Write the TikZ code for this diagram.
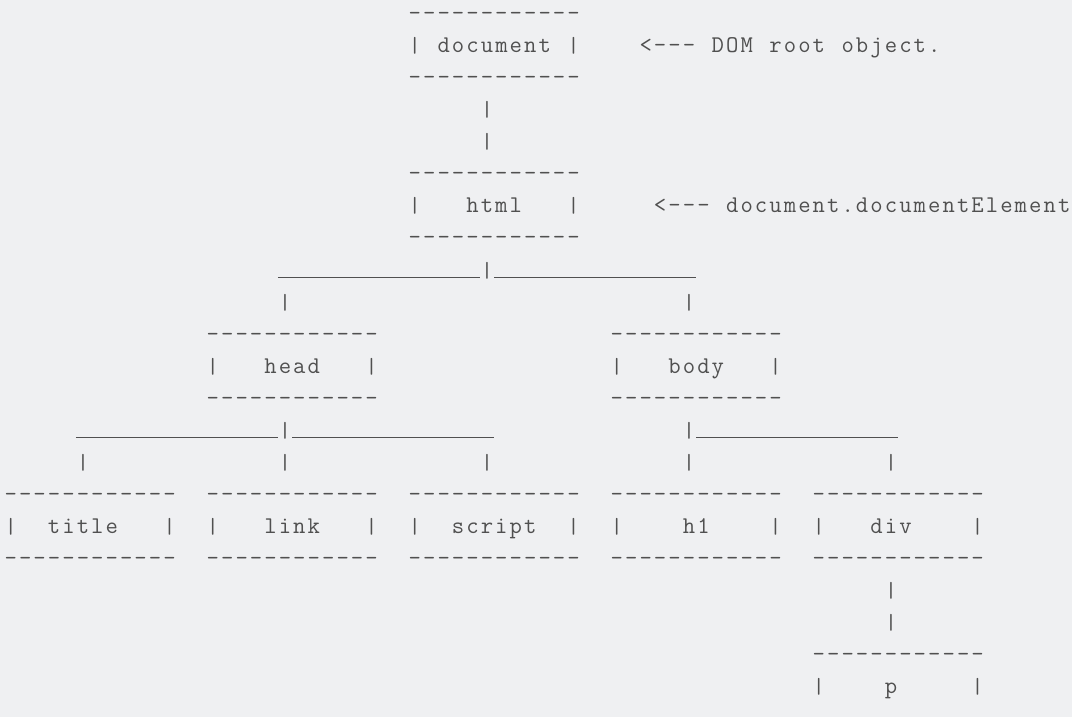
\documentclass[tikz,border=0pt]{standalone}
\usepackage{fontspec}
\usepackage{graphicx}
\definecolor{bg}{HTML}{EFF0F2}
\definecolor{ink}{HTML}{505050}
\newlength\cw \setlength\cw{14.43pt}
\makeatletter
\newcommand\cells[1]{\@tfor\ascch:=#1\do{\makebox[\cw][c]{\ascch}}}
\makeatother
\newcommand\vbar{\raisebox{-2pt}{\resizebox*{\width}{17pt}{\raisebox{\depth}{|}}}}
\tikzset{asc/.style={anchor=base west, inner sep=0pt, outer sep=0pt, text=ink,
  font=\fontsize{24}{28}\selectfont\ttfamily}}
\newcommand\ascseg[4]{\node[asc] (#1) at ({3.6pt+#2*\cw},{-20.5pt-#3*32.05pt}) {\cells{#4}};}
\newcommand\ascus[4]{\node[asc] (#1) at ({3.6pt+#2*\cw},{-20.5pt-#3*32.05pt}) {\rule[-1.3pt]{#4\cw}{1.2pt}};}
\begin{document}
\begin{tikzpicture}
\path[fill=bg,use as bounding box] (0pt,0pt) rectangle (1072pt,-717pt);
% document
\ascseg{docT}{28}{0}{------------}
\ascseg{document}{28}{1}{\vbar~document~\vbar}
\ascseg{docnote}{44}{1}{<---~DOM~root~object.}
\ascseg{docB}{28}{2}{------------}
\ascseg{c1}{33}{3}{\vbar}
\ascseg{c2}{33}{4}{\vbar}
% html
\ascseg{htmlT}{28}{5}{------------}
\ascseg{html}{28}{6}{\vbar~~~html~~~\vbar}
\ascseg{htmlnote}{45}{6}{<---~document.documentElement}
\ascseg{htmlB}{28}{7}{------------}
\ascus{u1}{19}{8}{14}
\ascseg{c3}{33}{8}{\vbar}
\ascus{u2}{34}{8}{14}
\ascseg{c4}{19}{9}{\vbar}
\ascseg{c5}{47}{9}{\vbar}
% head / body
\ascseg{headT}{14}{10}{------------}
\ascseg{bodyT}{42}{10}{------------}
\ascseg{head}{14}{11}{\vbar~~~head~~~\vbar}
\ascseg{body}{42}{11}{\vbar~~~body~~~\vbar}
\ascseg{headB}{14}{12}{------------}
\ascseg{bodyB}{42}{12}{------------}
\ascus{u3}{5}{13}{14}
\ascseg{c6}{19}{13}{\vbar}
\ascus{u4}{20}{13}{14}
\ascseg{c7}{47}{13}{\vbar}
\ascus{u5}{48}{13}{14}
\ascseg{c8}{5}{14}{\vbar}
\ascseg{c9}{19}{14}{\vbar}
\ascseg{c10}{33}{14}{\vbar}
\ascseg{c11}{47}{14}{\vbar}
\ascseg{c12}{61}{14}{\vbar}
% leaves
\ascseg{titleT}{0}{15}{------------}
\ascseg{linkT}{14}{15}{------------}
\ascseg{scriptT}{28}{15}{------------}
\ascseg{h1T}{42}{15}{------------}
\ascseg{divT}{56}{15}{------------}
\ascseg{title}{0}{16}{\vbar~~title~~~\vbar}
\ascseg{link}{14}{16}{\vbar~~~link~~~\vbar}
\ascseg{script}{28}{16}{\vbar~~script~~\vbar}
\ascseg{h1}{42}{16}{\vbar~~~~h1~~~~\vbar}
\ascseg{div}{56}{16}{\vbar~~~div~~~~\vbar}
\ascseg{titleB}{0}{17}{------------}
\ascseg{linkB}{14}{17}{------------}
\ascseg{scriptB}{28}{17}{------------}
\ascseg{h1B}{42}{17}{------------}
\ascseg{divB}{56}{17}{------------}
\ascseg{c13}{61}{18}{\vbar}
\ascseg{c14}{61}{19}{\vbar}
\ascseg{pT}{56}{20}{------------}
\ascseg{p}{56}{21}{\vbar~~~~p~~~~~\vbar}
\end{tikzpicture}
\end{document}
